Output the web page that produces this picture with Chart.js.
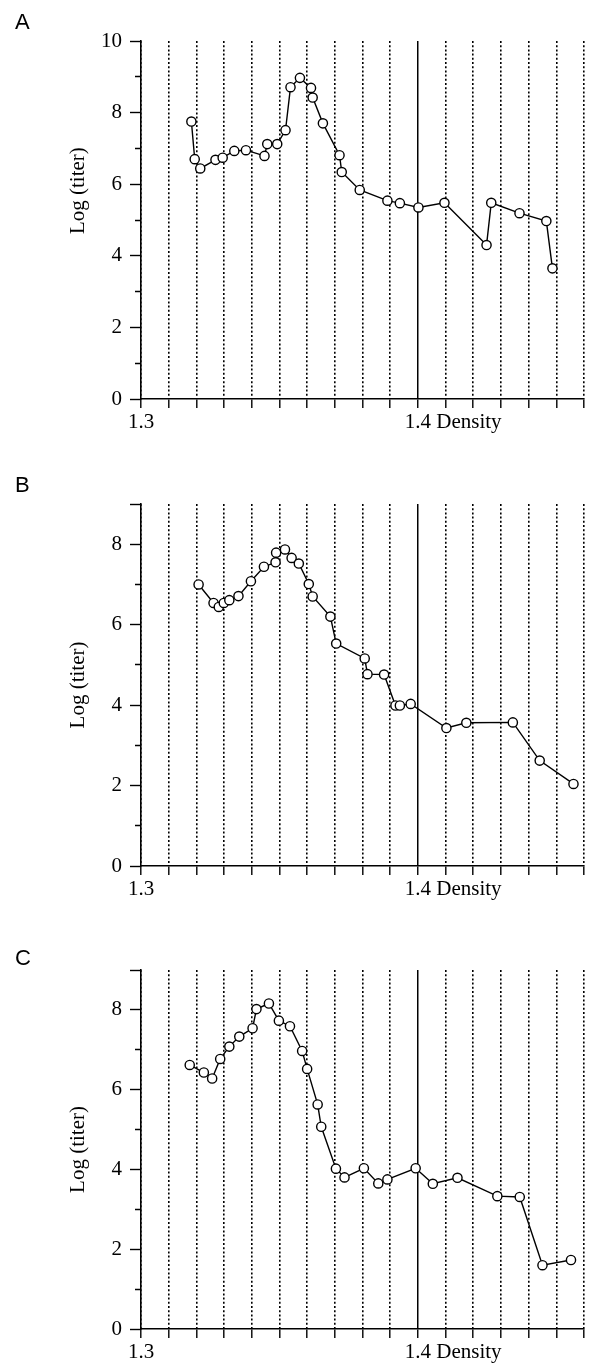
<!DOCTYPE html>
<html>
<head>
<meta charset="utf-8">
<script src="https://cdn.jsdelivr.net/npm/chart.js@4.4.1/dist/chart.umd.min.js"></script>
<style>
  body { margin: 0; background: #fff; width: 590px; height: 1369px; position: relative; overflow: hidden; }
  canvas { position: absolute; left: 0; }
</style>
</head>
<body>
<canvas id="panel-a" width="590" height="460" style="top:0px"></canvas>
<canvas id="panel-b" width="590" height="455" style="top:460px"></canvas>
<canvas id="panel-c" width="590" height="454" style="top:915px"></canvas>
<script>
// ---------------------------------------------------------
// DATOS
// ---------------------------------------------------------
const gridDensities = [1.30, 1.31, 1.32, 1.33, 1.34, 1.35, 1.36, 1.37, 1.38, 1.39, 1.40, 1.41, 1.42, 1.43, 1.44, 1.45, 1.46];
const xLabelled = [1.3, 1.4];
const yTicksA = [0, 1, 2, 3, 4, 5, 6, 7, 8, 9, 10];
const yTicksBC = [0, 1, 2, 3, 4, 5, 6, 7, 8, 9];

const densityA = [1.3182, 1.3194, 1.3214, 1.3269, 1.3295, 1.3337, 1.3379, 1.3446, 1.3456, 1.3492, 1.3522, 1.3540, 1.3574, 1.3614,
                  1.3620, 1.3657, 1.3717, 1.3725, 1.3790, 1.3890, 1.3935, 1.4002, 1.4096, 1.4248, 1.4265, 1.4367, 1.4464, 1.4486];
const titerA   = [7.75, 6.70, 6.44, 6.68, 6.74, 6.93, 6.95, 6.79, 7.12, 7.12, 7.51, 8.71, 8.97, 8.69,
                  8.42, 7.70, 6.81, 6.34, 5.84, 5.54, 5.47, 5.35, 5.48, 4.30, 5.48, 5.19, 4.97, 3.65];

const densityB = [1.3208, 1.3262, 1.3281, 1.3299, 1.3319, 1.3352, 1.3397, 1.3444, 1.3486, 1.3488, 1.3520, 1.3544, 1.3570, 1.3606,
                  1.3620, 1.3684, 1.3705, 1.3808, 1.3818, 1.3878, 1.3919, 1.3935, 1.3974, 1.4103, 1.4175, 1.4343, 1.4440, 1.4562];
const titerB   = [7.00, 6.54, 6.44, 6.54, 6.61, 6.71, 7.08, 7.44, 7.55, 7.79, 7.87, 7.66, 7.52, 7.01,
                  6.70, 6.20, 5.53, 5.16, 4.77, 4.76, 3.99, 3.99, 4.03, 3.43, 3.56, 3.57, 2.62, 2.04];

const densityC = [1.3176, 1.3227, 1.3257, 1.3286, 1.3319, 1.3355, 1.3403, 1.3417, 1.3462, 1.3498, 1.3538, 1.3582, 1.3600, 1.3638,
                  1.3651, 1.3704, 1.3735, 1.3805, 1.3857, 1.3890, 1.3992, 1.4054, 1.4143, 1.4287, 1.4368, 1.4450, 1.4553];
const titerC   = [6.62, 6.43, 6.28, 6.77, 7.08, 7.33, 7.54, 8.02, 8.16, 7.73, 7.59, 6.97, 6.52, 5.63,
                  5.07, 4.02, 3.80, 4.03, 3.65, 3.75, 4.03, 3.64, 3.79, 3.33, 3.31, 1.60, 1.73];

// ---------------------------------------------------------
// ESTILO GENERAL
// ---------------------------------------------------------
const SERIF = "'Liberation Serif', 'Times New Roman', serif";
const FONT_SIZE = 21;
const X_TICK_LEN = 9;
const X_TICK_PAD = 2;

Chart.defaults.font.family = SERIF;
Chart.defaults.font.size = FONT_SIZE;
Chart.defaults.color = '#000';

const isSolidLine = v => Math.abs(v - 1.4) < 1e-6;

// Letra del panel, título del eje Y y la palabra "Density"
const textoPanel = {
    id: 'textoPanel',
    afterDraw(chart, args, opts) {
        const { ctx, chartArea, scales } = chart;
        ctx.save();
        ctx.fillStyle = '#000';

        ctx.font = "22px 'Liberation Sans', Arial, sans-serif";
        ctx.textAlign = 'left';
        ctx.textBaseline = 'alphabetic';
        ctx.fillText(opts.letter, 15, opts.letterY);

        // "Density" justo después de la etiqueta 1.4
        ctx.font = FONT_SIZE + 'px ' + SERIF;
        const px = scales.x.getPixelForValue(1.4);
        const yLabel = chartArea.bottom + X_TICK_LEN + X_TICK_PAD + FONT_SIZE * 0.6;
        ctx.textBaseline = 'middle';
        ctx.fillText('Density', px + ctx.measureText('1.4').width / 2 + ctx.measureText(' ').width, yLabel);

        // Título vertical
        const cy = chartArea.top + (chartArea.bottom - chartArea.top) * opts.titleCenter;
        ctx.translate(78, cy);
        ctx.rotate(-Math.PI / 2);
        ctx.textAlign = 'center';
        ctx.fillText('Log (titer)', 0, 0);
        ctx.restore();
    }
};

function crearPanel(id, densities, titers, cfg) {
    const canvas = document.getElementById(id);
    const h = canvas.height;

    new Chart(canvas, {
        type: 'line',
        data: {
            datasets: [{
                data: densities.map((d, i) => ({ x: d, y: titers[i] })),
                borderColor: '#000',
                borderWidth: 1.4,
                pointRadius: 4.6,
                pointBorderWidth: 1.4,
                pointBorderColor: '#000',
                pointBackgroundColor: '#fff',
                tension: 0,
                clip: false
            }]
        },
        options: {
            responsive: false,
            animation: false,
            events: [],
            layout: { padding: { top: cfg.top, right: 2, left: 0, bottom: 0 } },
            plugins: {
                legend: { display: false },
                tooltip: { enabled: false },
                textoPanel: { letter: cfg.letter, letterY: cfg.letterY, titleCenter: cfg.titleCenter }
            },
            scales: {
                x: {
                    type: 'linear',
                    min: 1.3,
                    max: 1.46,
                    afterBuildTicks: s => { s.ticks = gridDensities.map(v => ({ value: v })); },
                    afterFit: s => { s.height = h - cfg.bottom; },
                    ticks: {
                        autoSkip: false,
                        maxRotation: 0,
                        padding: X_TICK_PAD,
                        callback: v => {
                            const l = xLabelled.find(t => Math.abs(t - v) < 1e-6);
                            return l === undefined ? '' : l.toFixed(1);
                        }
                    },
                    grid: {
                        color: '#000',
                        lineWidth: c => (c.tick && isSolidLine(c.tick.value)) ? 1.5 : 1.6,
                        tickLength: X_TICK_LEN,
                        tickColor: '#000',
                        tickWidth: 1.4
                    },
                    border: {
                        color: '#000',
                        width: 1.6,
                        dash: c => (c.tick && !isSolidLine(c.tick.value)) ? [2, 2.2] : []
                    }
                },
                y: {
                    type: 'linear',
                    min: 0,
                    max: cfg.yMax,
                    afterBuildTicks: s => { s.ticks = cfg.yTicks.map(v => ({ value: v })); },
                    afterFit: s => { s.width = 141; },
                    ticks: {
                        autoSkip: false,
                        padding: 8,
                        callback: v => (v % 2 === 0 ? String(v) : '')
                    },
                    grid: {
                        drawOnChartArea: false,
                        tickLength: 11,
                        tickColor: '#000',
                        tickWidth: 1.4,
                        // marcas menores (impares) más cortas
                        tickBorderDash: c => (c.tick && c.tick.value % 2 === 1 && c.tick.value !== cfg.yMax) ? [0, 5, 20] : []
                    },
                    border: { color: '#000', width: 1.6 }
                }
            }
        },
        plugins: [textoPanel]
    });
}

crearPanel('panel-a', densityA, titerA, { letter: 'A', letterY: 29, top: 41, bottom: 399, yMax: 10, yTicks: yTicksA, titleCenter: 0.418 });
crearPanel('panel-b', densityB, titerB, { letter: 'B', letterY: 32, top: 44, bottom: 406, yMax: 9, yTicks: yTicksBC, titleCenter: 0.5 });
crearPanel('panel-c', densityC, titerC, { letter: 'C', letterY: 50, top: 55, bottom: 414, yMax: 9, yTicks: yTicksBC, titleCenter: 0.5 });
</script>
</body>
</html>
